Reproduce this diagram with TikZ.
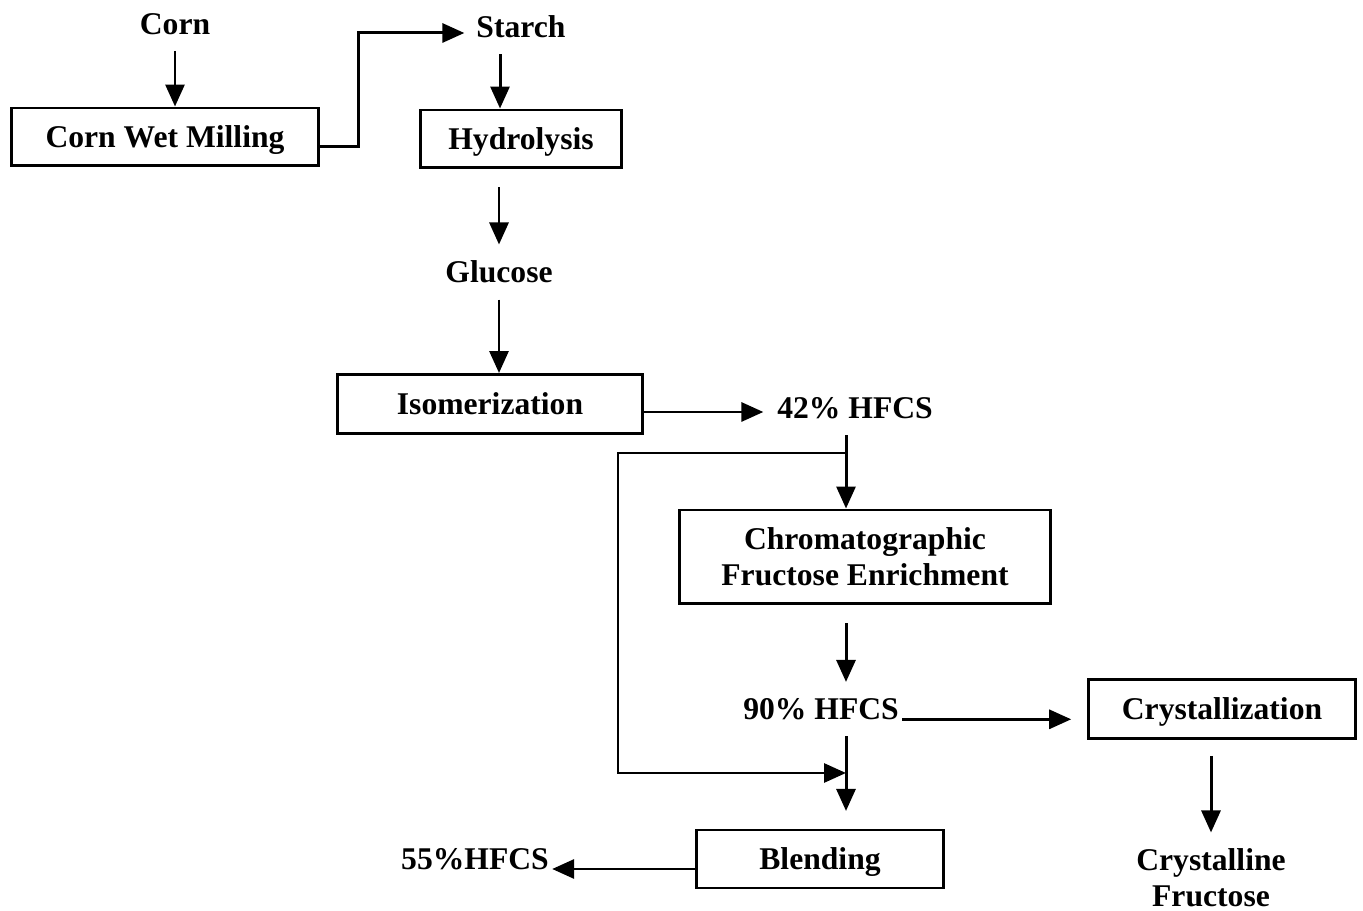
\documentclass[tikz,border=0pt]{standalone}
\usepackage{fontspec}
\setmainfont{Liberation Serif}
\usetikzlibrary{arrows.meta, positioning}
\newcommand\FlowFont{\fontsize{18}{20.5}\selectfont\bfseries}

\begin{document}
\begin{tikzpicture} [x=0.02cm, y=-0.02cm,
     N/.style = {draw, line width=1.7pt, minimum height=1.16cm, font=\FlowFont},
    NS/.style = {N, text height=0.42cm, text depth=0pt},
     T/.style = {inner xsep=0.06cm, inner ysep=0.32cm, font=\FlowFont},
   arr/.style = {draw, line width=1.7pt, -{Triangle[length=0.44cm, width=0.38cm]}}
]
  \useasboundingbox (0,0) rectangle (1363,911);

  % Nodes and Positions
  % TOP ROW
  \node[T] (corn) at (175,24) {Corn};
  \node[NS, minimum width=6.14cm] (cwm) at (165,137) {Corn Wet Milling};
  \node[T] (starch) at (521,27) {Starch};
  \node[NS, minimum width=4.04cm] (hyd) at (521,139) {Hydrolysis};

  % MIDDLE
  \node[T] (glu) at (499,272) {Glucose};
  \node[NS, minimum width=6.1cm, minimum height=1.18cm] (iso) at (490,404) {Isomerization};
  \node[T] (hfcsA) at (855,408) {42\% HFCS};
  \node[N, minimum width=7.44cm, minimum height=1.88cm, align=center] (chrom) at (865,557)
       {Chromatographic\\Fructose Enrichment};

  % BOTTOM
  \node[T] (hfcsB) at (821,709) {90\% HFCS};
  \node[NS, minimum width=5.34cm, minimum height=1.18cm] (cryst) at (1222,709) {Crystallization};
  \node[T, align=center] (cfruc) at (1211,878) {Crystalline\\Fructose};
  \node[NS, minimum width=4.94cm] (blend) at (820,859) {Blending};
  \node[T] (hfcsC) at (475,859) {55\%HFCS};

  \coordinate (split) at (846,453);
  \coordinate (turn) at (618,773);
  \coordinate (join) at (846,773);

  % Edges
  \draw[arr] (corn.south) -- (corn.south |- cwm.north);
  \draw[arr, shorten >=5pt] ([yshift=-0.2cm]cwm.east) -- ++(39,0) |- ([yshift=-0.12cm]starch.west);
  \draw[arr] ([xshift=-0.42cm]starch.south) -- ([xshift=-0.42cm]starch.south |- hyd.north);
  \draw[arr, shorten <=10pt] (hyd.south -| glu.north) -- (glu.north);
  \draw[arr] (glu.south) -- (glu.south |- iso.north);
  \draw[arr, shorten >=6pt] ([yshift=-0.16cm]iso.east) -- ([yshift=-0.16cm]iso.east -| hfcsA.west);

  \draw[arr] (hfcsA.south -| split) -- (chrom.north -| split);
  \draw[arr] (split) -| (turn) -- (join);

  \draw[arr, shorten <=10pt] (chrom.south -| split) -- (hfcsB.north -| split);
  \draw[arr, shorten >=10pt] (hfcsB.south -| split) -- (blend.north -| split);
  \draw[arr, shorten >=9pt] (hfcsB.base east) -- (hfcsB.base east -| cryst.west);
  \draw[arr, shorten <=9pt] (cryst.south -| cfruc.north) -- (cfruc.north);

  \draw[arr] ([yshift=-0.2cm]blend.west) -- ([yshift=-0.2cm]blend.west -| hfcsC.east);

\end{tikzpicture}
\end{document}
